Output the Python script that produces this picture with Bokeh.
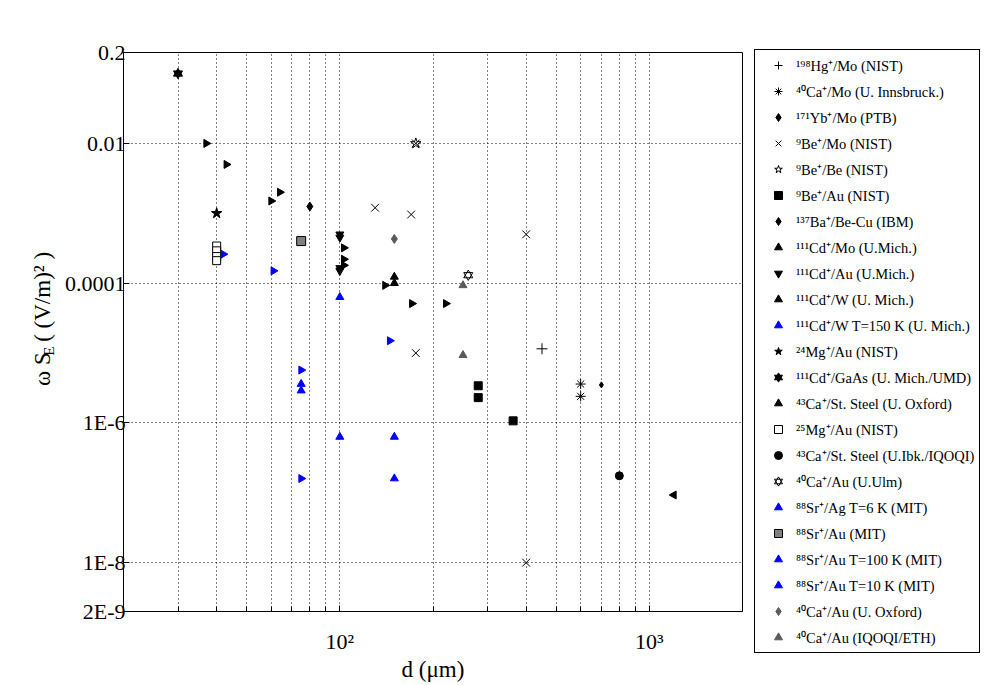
import math
from bokeh.plotting import figure
from bokeh.layouts import row
from bokeh.models import Range1d, FixedTicker, Legend, LegendItem, Label
from bokeh.embed import file_html
from bokeh.resources import INLINE

# ---------------- data (d in um, omega*S_E in (V/m)^2) ----------------
hg_mo_d = [450]
hg_mo_s = [1.15e-5]
ca_mo_d = [600, 600]
ca_mo_s = [3.6e-6, 2.4e-6]
yb_mo_d = [700]
yb_mo_s = [3.5e-6]
be_mo_d = [130, 170, 176, 176, 400, 400]
be_mo_s = [1.2e-3, 9.6e-4, 1.0e-2, 1.0e-5, 5.0e-4, 1.0e-8]
be_be_d = [176]
be_be_s = [1.0e-2]
be_au_d = [280, 280, 363]
be_au_s = [3.4e-6, 2.3e-6, 1.07e-6]
ba_becu_d = [80]
ba_becu_s = [1.25e-3]
cd_mo_d = [150, 150]
cd_mo_s = [1.23e-4, 1.0e-4]
cd_au_d = [100, 100, 100, 100]
cd_au_s = [5.0e-4, 4.5e-4, 1.65e-4, 1.5e-4]
cd_w_d = [37, 43, 60, 64, 103, 103, 103, 140, 171, 220]
cd_w_s = [1.0e-2, 5.0e-3, 1.5e-3, 2.0e-3, 3.2e-4, 2.2e-4, 1.8e-4, 9.3e-5, 5.1e-5, 5.1e-5]
cd_w150_d = [42, 61]
cd_w150_s = [2.6e-4, 1.5e-4]
mg24_au_d = [40]
mg24_au_s = [1.0e-3]
cd_gaas_d = [30]
cd_gaas_s = [0.1]
ca_ss_ox_d = [1200]
ca_ss_ox_s = [9.3e-8]
mg25_au_d = [40, 40, 40, 40]
mg25_au_s = [3.4e-4, 2.9e-4, 2.4e-4, 2.1e-4]
ca_ss_ibk_d = [800]
ca_ss_ibk_s = [1.75e-7]
ca_au_ulm_d = [260]
ca_au_ulm_s = [1.3e-4]
sr_ag6_d = [75, 75, 100, 100, 150, 150]
sr_ag6_s = [3.6e-6, 2.9e-6, 6.3e-5, 6.3e-7, 6.3e-7, 1.6e-7]
sr_au_d = [75]
sr_au_s = [4.0e-4]
sr_au100_d = [75, 145]
sr_au100_s = [5.7e-6, 1.5e-5]
sr_au10_d = [75]
sr_au10_s = [1.6e-7]
ca_au_ox_d = [150]
ca_au_ox_s = [4.3e-4]
ca_au_eth_d = [250, 250]
ca_au_eth_s = [9.3e-5, 9.3e-6]

labels = [
    "¹⁹⁸Hg⁺/Mo (NIST)",
    "⁴⁰Ca⁺/Mo (U. Innsbruck.)",
    "¹⁷¹Yb⁺/Mo (PTB)",
    "⁹Be⁺/Mo (NIST)",
    "⁹Be⁺/Be (NIST)",
    "⁹Be⁺/Au (NIST)",
    "¹³⁷Ba⁺/Be-Cu (IBM)",
    "¹¹¹Cd⁺/Mo (U.Mich.)",
    "¹¹¹Cd⁺/Au (U.Mich.)",
    "¹¹¹Cd⁺/W (U. Mich.)",
    "¹¹¹Cd⁺/W T=150 K (U. Mich.)",
    "²⁴Mg⁺/Au (NIST)",
    "¹¹¹Cd⁺/GaAs (U. Mich./UMD)",
    "⁴³Ca⁺/St. Steel (U. Oxford)",
    "²⁵Mg⁺/Au (NIST)",
    "⁴³Ca⁺/St. Steel (U.Ibk./IQOQI)",
    "⁴⁰Ca⁺/Au (U.Ulm)",
    "⁸⁸Sr⁺/Ag T=6 K (MIT)",
    "⁸⁸Sr⁺/Au (MIT)",
    "⁸⁸Sr⁺/Au T=100 K (MIT)",
    "⁸⁸Sr⁺/Au T=10 K (MIT)",
    "⁴⁰Ca⁺/Au (U. Oxford)",
    "⁴⁰Ca⁺/Au (IQOQI/ETH)",
]

x_major = [100, 1000]
x_minor = [30, 40, 50, 60, 70, 80, 90, 200, 300, 400, 500, 600, 700, 800, 900]
x_tick_labels = ["10²", "10³"]
y_major = [2e-9, 1e-8, 1e-6, 1e-4, 1e-2, 0.2]
y_tick_labels = ["2E-9", "1E-8", "1E-6", "0.0001", "0.01", "0.2"]
y_title_parts = ["ω S", "E", "( (V/m)² )"]

FONT = "Liberation Serif"
H = 684
TW = 60

# ---------------- y-axis title panel (text with a subscript) ----------------
tp = figure(width=TW, height=H, x_range=Range1d(0, TW), y_range=Range1d(H, 0),
            x_axis_location=None, y_axis_location=None, toolbar_location=None,
            output_backend="svg", min_border=0, outline_line_color=None)
tp.xgrid.visible = False
tp.ygrid.visible = False
tp.background_fill_color = "white"
tp.border_fill_color = "white"
# (baseline x, start y, font size) of each part, in page pixels
title_layout = [(42, 408, "23px"), (48, 371, "15px"), (42, 354, "23px")]
for txt, (bx, by, fs) in zip(y_title_parts, title_layout):
    tp.add_layout(Label(x=bx, y=by, text=txt, angle=math.pi / 2, text_align="left",
                        text_baseline="alphabetic", text_font=FONT, text_font_size=fs,
                        text_color="black"))

# ---------------- main figure ----------------
p = figure(frame_width=619, frame_height=559,
           min_border_left=123 - TW, min_border_right=248, min_border_top=52,
           min_border_bottom=H - 52 - 559,
           x_axis_type="log", y_axis_type="log",
           x_range=Range1d(20, 2000), y_range=Range1d(2e-9, 0.2),
           output_backend="svg", toolbar_location=None)
p.background_fill_color = "white"
p.border_fill_color = "white"
p.outline_line_color = "black"
p.outline_line_width = 1

xt = FixedTicker(ticks=x_major, minor_ticks=x_minor)
yt = FixedTicker(ticks=y_major, minor_ticks=[])
p.xaxis.ticker = xt
p.yaxis.ticker = yt
p.xgrid.ticker = xt
p.ygrid.ticker = yt
p.xaxis.major_label_overrides = {v: t for v, t in zip(x_major, x_tick_labels)}
p.yaxis.major_label_overrides = {v: t for v, t in zip(y_major, y_tick_labels)}

for ax in (p.xaxis[0], p.yaxis[0]):
    ax.axis_line_color = "black"
    ax.major_tick_line_color = "black"
    ax.minor_tick_line_color = "black"
    ax.major_tick_in = 6
    ax.major_tick_out = 0
    ax.minor_tick_in = 5
    ax.minor_tick_out = 0
    ax.major_label_text_font = FONT
    ax.major_label_text_font_size = "22px"
    ax.major_label_text_color = "black"
    ax.axis_label_text_font = FONT
    ax.axis_label_text_font_size = "23px"
    ax.axis_label_text_font_style = "normal"
    ax.axis_label_text_color = "black"
p.xaxis.major_label_standoff = 17
p.xaxis.axis_label = "d (μm)"
p.xaxis.axis_label_standoff = 0
p.yaxis.major_label_standoff = -2

for g in (p.xgrid[0], p.ygrid[0]):
    g.grid_line_color = "black"
    g.grid_line_dash = "1 3"
    g.grid_line_width = 1
p.xgrid.minor_grid_line_color = "black"
p.xgrid.minor_grid_line_dash = "1 3"

BLACK = "black"
BLUE = "#0000ff"
GREY = "#5a5a5a"
R = -math.pi / 2
L = math.pi / 2


def sc(d, s, marker, size, fill, line, angle=0.0):
    return p.scatter(x=d, y=s, marker=marker, size=size, fill_color=fill, line_color=line,
                     angle=angle, line_width=1)


series = [
    [sc(hg_mo_d, hg_mo_s, "cross", 11, None, BLACK)],
    [sc(ca_mo_d, ca_mo_s, "asterisk", 10, None, BLACK)],
    [sc(yb_mo_d, yb_mo_s, "diamond", 6, BLACK, BLACK)],
    [sc(be_mo_d, be_mo_s, "x", 11, None, BLACK)],
    [sc(be_be_d, be_be_s, "star", 11, None, BLACK)],
    [sc(be_au_d, be_au_s, "square", 8, BLACK, BLACK)],
    [sc(ba_becu_d, ba_becu_s, "diamond", 9, BLACK, BLACK)],
    [sc(cd_mo_d, cd_mo_s, "triangle", 8, BLACK, BLACK)],
    [sc(cd_au_d, cd_au_s, "inverted_triangle", 8, BLACK, BLACK)],
    [sc(cd_w_d, cd_w_s, "triangle", 8, BLACK, BLACK, R)],
    [sc(cd_w150_d, cd_w150_s, "triangle", 8, BLUE, BLUE, R)],
    [sc(mg24_au_d, mg24_au_s, "star", 11, BLACK, BLACK)],
    [sc(cd_gaas_d, cd_gaas_s, "triangle", 9, BLACK, BLACK),
     sc(cd_gaas_d, cd_gaas_s, "inverted_triangle", 9, BLACK, BLACK)],
    [sc(ca_ss_ox_d, ca_ss_ox_s, "triangle", 8, BLACK, BLACK, L)],
    [sc(mg25_au_d, mg25_au_s, "square", 8, "white", BLACK)],
    [sc(ca_ss_ibk_d, ca_ss_ibk_s, "circle", 8, BLACK, BLACK)],
    [sc(ca_au_ulm_d, ca_au_ulm_s, "triangle", 9, None, BLACK),
     sc(ca_au_ulm_d, ca_au_ulm_s, "inverted_triangle", 9, None, BLACK)],
    [sc(sr_ag6_d, sr_ag6_s, "triangle", 8, BLUE, BLUE)],
    [sc(sr_au_d, sr_au_s, "square", 9, "#808080", BLACK)],
    [sc(sr_au100_d, sr_au100_s, "triangle", 8, BLUE, BLUE, R)],
    [sc(sr_au10_d, sr_au10_s, "triangle", 8, BLUE, BLUE, R)],
    [sc(ca_au_ox_d, ca_au_ox_s, "diamond", 9, GREY, GREY)],
    [sc(ca_au_eth_d, ca_au_eth_s, "triangle", 8, GREY, GREY)],
]

items = [LegendItem(label=lab, renderers=rs) for lab, rs in zip(labels, series)]
legend = Legend(items=items, location=(12, -42), margin=0, padding=5,
                spacing=6, glyph_width=36, glyph_height=20, label_height=20,
                label_standoff=-4, label_text_font=FONT, label_text_font_size="14.5px",
                label_text_color="black", border_line_color="black", border_line_width=1,
                border_line_alpha=1, background_fill_color="white", background_fill_alpha=1)
p.add_layout(legend, "right")

layout = row(tp, p, spacing=0)
open("out.html", "w").write(file_html(layout, INLINE))
